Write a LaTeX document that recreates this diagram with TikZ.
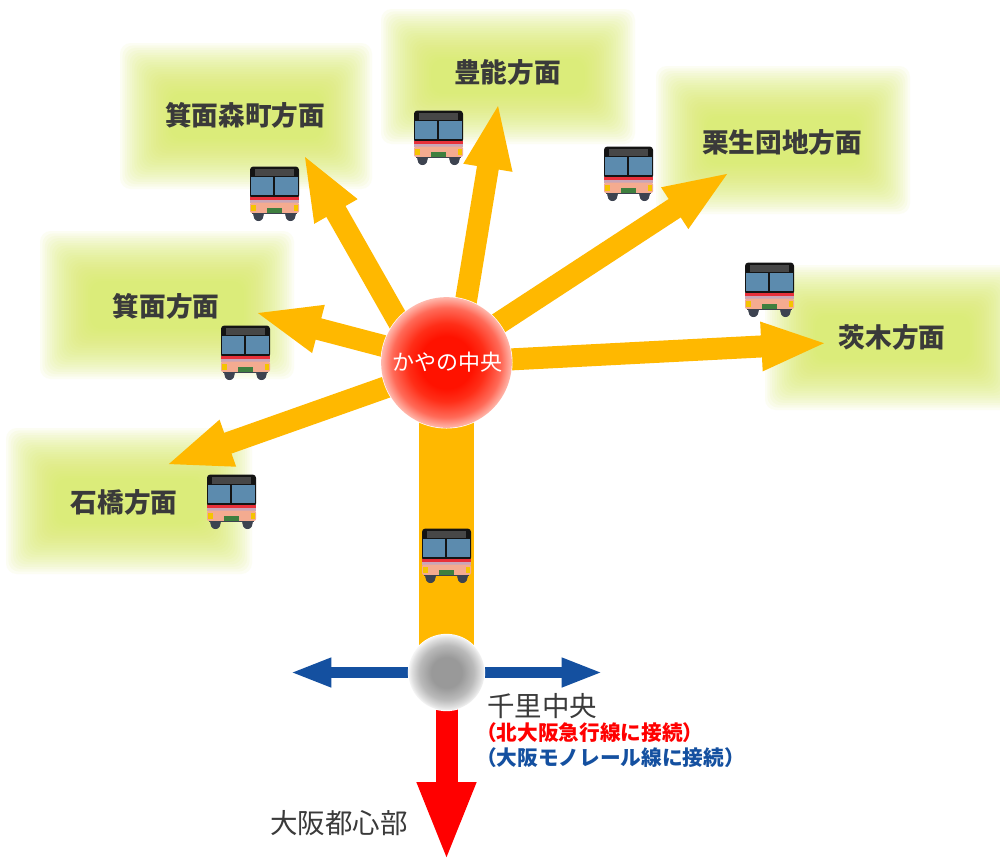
\documentclass[tikz,border=0pt]{standalone}
\usepackage{fontspec}
\setmainfont{Noto Sans CJK JP}
\usetikzlibrary{arrows.meta,calc}
\definecolor{routeY}{HTML}{FFB800}
\definecolor{glowG}{HTML}{D9EC60}
\definecolor{labelK}{HTML}{3A3A3A}
\definecolor{lineB}{HTML}{1450A0}
\definecolor{lineR}{HTML}{FF0000}
\definecolor{busB}{HTML}{5C8BAE}
\definecolor{busP}{HTML}{F4AB90}
\definecolor{busK}{HTML}{141414}
\definecolor{busW}{HTML}{3D4350}
\definecolor{busS}{HTML}{C9A6B8}
\definecolor{busL}{HTML}{F5C400}
\definecolor{busG}{HTML}{3F7F3F}
\definecolor{busR}{HTML}{E8303A}
\definecolor{hubA}{HTML}{FF1200}
\definecolor{hubB}{HTML}{FF2E18}
\definecolor{hubC}{HTML}{FF6A58}
\definecolor{hubD}{HTML}{FFB8AC}
\pgfdeclareradialshading{hubshade}{\pgfpoint{0bp}{0bp}}{color(0bp)=(hubA);color(10bp)=(hubA);color(15bp)=(hubB);color(21bp)=(hubC);color(25bp)=(hubD);color(50bp)=(white)}
\pgfdeclareradialshading{greyshade}{\pgfpoint{0bp}{0bp}}{color(0bp)=(black!40);color(10bp)=(black!40);color(18bp)=(black!27);color(23bp)=(black!12);color(25bp)=(black!4);color(50bp)=(white)}
\tikzset{
  x=0.75pt,y=-0.75pt,
  routearrow/.style={routeY,line width=16.5pt,-{Triangle[length=50pt,width=33pt]}},
  bluearrow/.style={lineB,line width=8.25pt,-{Triangle[length=31pt,width=20pt]}},
  redarrow/.style={lineR,line width=16.5pt,-{Triangle[length=60pt,width=40pt]}},
  dest/.style={text=labelK,font=\fontsize{20}{22}\selectfont\bfseries,inner sep=0pt},
  stationlabel/.style={text=labelK,font=\fontsize{20.6}{22}\selectfont,inner sep=0pt},
  note/.style={font=\fontsize{15.5}{17}\selectfont\bfseries,inner sep=0pt,anchor=west},
  glowlayer/.style={fill=glowG,fill opacity=0.07,draw=none,rounded corners=8pt},
  bus/.pic={
    \fill[busW] (3,44) .. controls (3,53) and (5,55) .. (8.5,55) .. controls (12,55) and (14,53) .. (14,44) -- cycle;
    \fill[busW] (35,44) .. controls (35,53) and (37,55) .. (40.5,55) .. controls (44,55) and (46,53) .. (46,44) -- cycle;
    \fill[busK,rounded corners=2.5pt] (0,0.5) rectangle (49,33);
    \fill[black!72] (5,2.5) rectangle (44,10);
    \fill[busB] (0.8,11) rectangle (22.7,29);
    \fill[busB] (24.7,11) rectangle (48.2,29);
    \fill[busR] (0,31) rectangle (49,34);
    \fill[busS] (0,34) rectangle (49,36.5);
    \fill[busP,rounded corners=1.5pt] (0,36.5) rectangle (49,47);
    \fill[busW] (2,46.5) rectangle (47,48);
    \fill[busL] (0.8,38.5) rectangle (5.5,44.5);
    \fill[busL] (43.5,38.5) rectangle (48.2,44.5);
    \fill[busG] (17,41.5) rectangle (32,47);
  }
}
\newcommand{\glowbox}[4]{%
  \foreach \i in {0,...,21}{%
    \pgfmathsetmacro{\inset}{\i*2.4}%
    \fill[glowlayer] ({#1+\inset},{#2+\inset}) rectangle ({#3-\inset},{#4-\inset});
  }}
\begin{document}
\begin{tikzpicture}
\useasboundingbox (0,0) rectangle (1000,858);
\fill[white] (0,0) rectangle (1000,858);
\glowbox{120}{43}{372}{189}
\glowbox{381}{9}{635}{144}
\glowbox{656}{66}{910}{214}
\glowbox{40}{231}{294}{379}
\glowbox{765}{265}{1020}{410}
\glowbox{6}{428}{252}{574}

\coordinate (hubO) at (446.5,362.5);
\coordinate (grayO) at (446.5,672.5);
\coordinate (s1) at (405,333);
\coordinate (s2) at (462,325);
\coordinate (s3) at (470,342);
\coordinate (s4) at (410,353);
\coordinate (s5) at (480,361);
\coordinate (s6) at (415,377);
\coordinate (tipMino) at (303,153.5);
\coordinate (tipToyono) at (498.7,102);
\coordinate (tipKuri) at (730.5,171.7);
\coordinate (tipMinoh) at (254,312);
\coordinate (tipIbaraki) at (828,343);
\coordinate (tipIshibashi) at (165,465.4);
\coordinate (tipLeft) at (290,672.5);
\coordinate (tipRight) at (603,672.5);
\coordinate (tipDown) at (446.5,862);

\draw[routeY,line width=41pt] (hubO) -- (grayO);
\draw[routearrow] (s1) -- (tipMino);
\draw[routearrow] (s2) -- (tipToyono);
\draw[routearrow] (s3) -- (tipKuri);
\draw[routearrow] (s4) -- (tipMinoh);
\draw[routearrow] (s5) -- (tipIbaraki);
\draw[routearrow] (s6) -- (tipIshibashi);
\draw[bluearrow] (grayO) -- (tipLeft);
\draw[bluearrow] (grayO) -- (tipRight);
\draw[redarrow] (grayO) -- (tipDown);

\node[circle,minimum size=99pt,inner sep=0pt,fill=white] at (hubO) {};
\node[circle,minimum size=98pt,inner sep=0pt,shading=hubshade] (hub) at (hubO) {};
\node[circle,minimum size=58pt,inner sep=0pt,fill=white] at (grayO) {};
\node[circle,minimum size=57pt,inner sep=0pt,shading=greyshade] (gray) at (grayO) {};

\node[text=white,font=\fontsize{16.5}{20}\selectfont,inner sep=0pt] (hublabel) at (447,362) {かやの中央};
\node[dest] (l1) at (245,115) {箕面森町方面};
\node[dest] (l2) at (507.5,72) {豊能方面};
\node[dest] (l3) at (782,142) {栗生団地方面};
\node[dest] (l4) at (166,306) {箕面方面};
\node[dest] (l5) at (892,337) {茨木方面};
\node[dest] (l6) at (124,502) {石橋方面};
\node[stationlabel,anchor=west] (l7) at (487,706) {千里中央};
\node[note,text=lineR] (l8) at (476,733) {（北大阪急行線に接続）};
\node[note,text=lineB] (l9) at (476,758) {（大阪モノレール線に接続）};
\node[stationlabel] (l10) at (339,823) {大阪都心部};

\pic at (250,166) {bus};
\pic at (414,110) {bus};
\pic at (604,146) {bus};
\pic at (745,262) {bus};
\pic at (221,325) {bus};
\pic at (207,474) {bus};
\pic at (422,528) {bus};
\end{tikzpicture}
\end{document}
